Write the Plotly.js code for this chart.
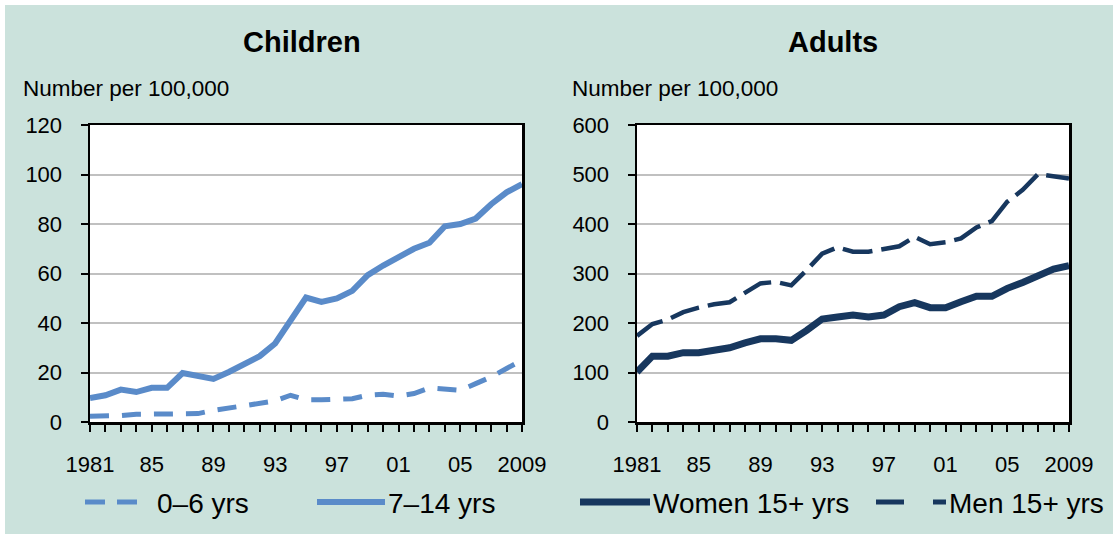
<!DOCTYPE html>
<html>
<head>
<meta charset="utf-8">
<script src="https://cdn.plot.ly/plotly-3.0.1.min.js"></script>
<style>html,body{margin:0;padding:0;background:#fff;}#chart{width:1113px;height:534px;}</style>
</head>
<body>
<div id="chart"></div>
<script>
// ---- data ----
const years = [1981,1982,1983,1984,1985,1986,1987,1988,1989,1990,1991,1992,1993,1994,1995,1996,1997,1998,1999,2000,2001,2002,2003,2004,2005,2006,2007,2008,2009];
const tickYears = [1981,1985,1989,1993,1997,2001,2005,2009];
const tickLabels = ["1981","85","89","93","97","01","05","2009"];

const children0to6 = [2.3,2.3,2.6,3.1,3.1,3.1,3.1,3.4,4.7,5.7,6.7,7.7,8.5,10.8,9.0,9.0,9.0,9.4,10.8,11.2,10.5,11.5,13.8,13.5,12.8,15.5,18.2,21.6,25.0];
const children7to14 = [9.7,10.8,13.1,12.1,13.8,13.8,19.8,18.9,17.4,20.2,23.5,26.6,31.7,40.7,50.3,48.5,49.9,53.0,59.3,63.2,66.9,70.0,72.4,79.1,80.0,82.2,88.0,92.8,96.1];
const women15 = [101,133,133,140,140,144,150,160,168,168,165,185,208,212,216,212,216,233,241,231,231,243,254,254,270,282,297,309,316];
const men15 = [174,198,207,222,231,238,242,261,280,283,276,307,340,353,344,344,349,355,374,359,363,371,393,406,445,469,501,497,492];

const childNames = ["0–6 yrs","7–14 yrs"];
const adultNames = ["Women 15+ yrs","Men 15+ yrs"];

// ---- styling ----
const W = 1113, H = 534;
const FONT = "Liberation Sans, Arial, Helvetica, sans-serif";
const childColor = "#5a8bc9";
const adultColor = "#17375e";
const px = v => v / W;
const py = v => 1 - v / H;

const traces = [
  {x: years, y: children0to6, name: childNames[0], xaxis: "x", yaxis: "y", mode: "lines",
   line: {color: childColor, width: 5, dash: "19px,13px"}, showlegend: false},
  {x: years, y: children7to14, name: childNames[1], xaxis: "x", yaxis: "y", mode: "lines",
   line: {color: childColor, width: 6}, showlegend: false},
  {x: years, y: women15, name: adultNames[0], xaxis: "x2", yaxis: "y2", mode: "lines",
   line: {color: adultColor, width: 7}, showlegend: false},
  {x: years, y: men15, name: adultNames[1], xaxis: "x2", yaxis: "y2", mode: "lines",
   line: {color: adultColor, width: 4.5, dash: "30px,9px"}, showlegend: false}
];

function xAxis(domain) {
  return {
    domain: domain, range: [1981, 2009], type: "linear",
    tickmode: "array", tickvals: tickYears, ticktext: tickLabels,
    ticks: "outside", ticklen: 7, tickwidth: 2, tickcolor: "#000",
    minor: {ticks: "outside", tickmode: "linear", tick0: 1981, dtick: 1, ticklen: 7, tickwidth: 2, tickcolor: "#000", showgrid: false},
    showline: true, linecolor: "#000", linewidth: 2.5, mirror: true,
    showgrid: false, zeroline: false, fixedrange: true,
    tickfont: {family: FONT, size: 22, color: "#000"},
    ticklabelstandoff: 14
  };
}
function yAxis(range, dtick, anchor) {
  return {
    domain: [1 - 422 / H, 1 - 125 / H], range: range, dtick: dtick, anchor: anchor,
    ticks: "outside", ticklen: 7, tickwidth: 2, tickcolor: "#000",
    showline: true, linecolor: "#000", linewidth: 2.5, mirror: true,
    showgrid: true, gridcolor: "#c0c0c0", gridwidth: 2, zeroline: false, fixedrange: true,
    tickfont: {family: FONT, size: 22, color: "#000"},
    ticklabelstandoff: 14
  };
}

const annotations = [
  {text: "Children", x: px(302), y: py(42), xref: "paper", yref: "paper", showarrow: false,
   xanchor: "center", yanchor: "middle", font: {family: FONT, size: 29, color: "#000", weight: "bold"}},
  {text: "Adults", x: px(833), y: py(42), xref: "paper", yref: "paper", showarrow: false,
   xanchor: "center", yanchor: "middle", font: {family: FONT, size: 29, color: "#000", weight: "bold"}},
  {text: "Number per 100,000", x: px(21), y: py(89), xref: "paper", yref: "paper", showarrow: false,
   xanchor: "left", yanchor: "middle", font: {family: FONT, size: 22.5, color: "#000"}},
  {text: "Number per 100,000", x: px(570), y: py(89), xref: "paper", yref: "paper", showarrow: false,
   xanchor: "left", yanchor: "middle", font: {family: FONT, size: 22.5, color: "#000"}},
  // legend labels
  {text: childNames[0], x: px(155), y: py(503), xref: "paper", yref: "paper", showarrow: false,
   xanchor: "left", yanchor: "middle", font: {family: FONT, size: 28, color: "#000"}},
  {text: childNames[1], x: px(386), y: py(503), xref: "paper", yref: "paper", showarrow: false,
   xanchor: "left", yanchor: "middle", font: {family: FONT, size: 28, color: "#000"}},
  {text: adultNames[0], x: px(651), y: py(503), xref: "paper", yref: "paper", showarrow: false,
   xanchor: "left", yanchor: "middle", font: {family: FONT, size: 28, color: "#000"}},
  {text: adultNames[1], x: px(947), y: py(503), xref: "paper", yref: "paper", showarrow: false,
   xanchor: "left", yanchor: "middle", font: {family: FONT, size: 28, color: "#000"}}
];

const shapes = [
  // white outer margin on top and left
  {type: "rect", xref: "paper", yref: "paper", x0: 0, x1: 1, y0: py(5), y1: 1, fillcolor: "#fff", line: {width: 0}, layer: "below"},
  {type: "rect", xref: "paper", yref: "paper", x0: 0, x1: px(5), y0: 0, y1: 1, fillcolor: "#fff", line: {width: 0}, layer: "below"},
  // legend samples
  {type: "line", xref: "paper", yref: "paper", x0: px(85), x1: px(137), y0: py(502), y1: py(502), line: {color: childColor, width: 5, dash: "20px,12px"}},
  {type: "line", xref: "paper", yref: "paper", x0: px(317), x1: px(385), y0: py(502), y1: py(502), line: {color: childColor, width: 6}},
  {type: "line", xref: "paper", yref: "paper", x0: px(580), x1: px(650), y0: py(502), y1: py(502), line: {color: adultColor, width: 7}},
  {type: "line", xref: "paper", yref: "paper", x0: px(876), x1: px(946), y0: py(502), y1: py(502), line: {color: adultColor, width: 5, dash: "28px,29px"}}
];

const layout = {
  width: W, height: H,
  margin: {l: 0, r: 0, t: 0, b: 0, pad: 0},
  paper_bgcolor: "#cbe2dc", plot_bgcolor: "#ffffff",
  showlegend: false,
  font: {family: FONT, color: "#000"},
  xaxis: xAxis([90 / W, 522 / W]),
  yaxis: yAxis([0, 120], 20, "x"),
  xaxis2: xAxis([637 / W, 1069 / W]),
  yaxis2: yAxis([0, 600], 100, "x2"),
  annotations: annotations,
  shapes: shapes
};
layout.xaxis.anchor = "y";
layout.xaxis2.anchor = "y2";

Plotly.newPlot("chart", traces, layout, {displayModeBar: false, staticPlot: true});
</script>
</body>
</html>
